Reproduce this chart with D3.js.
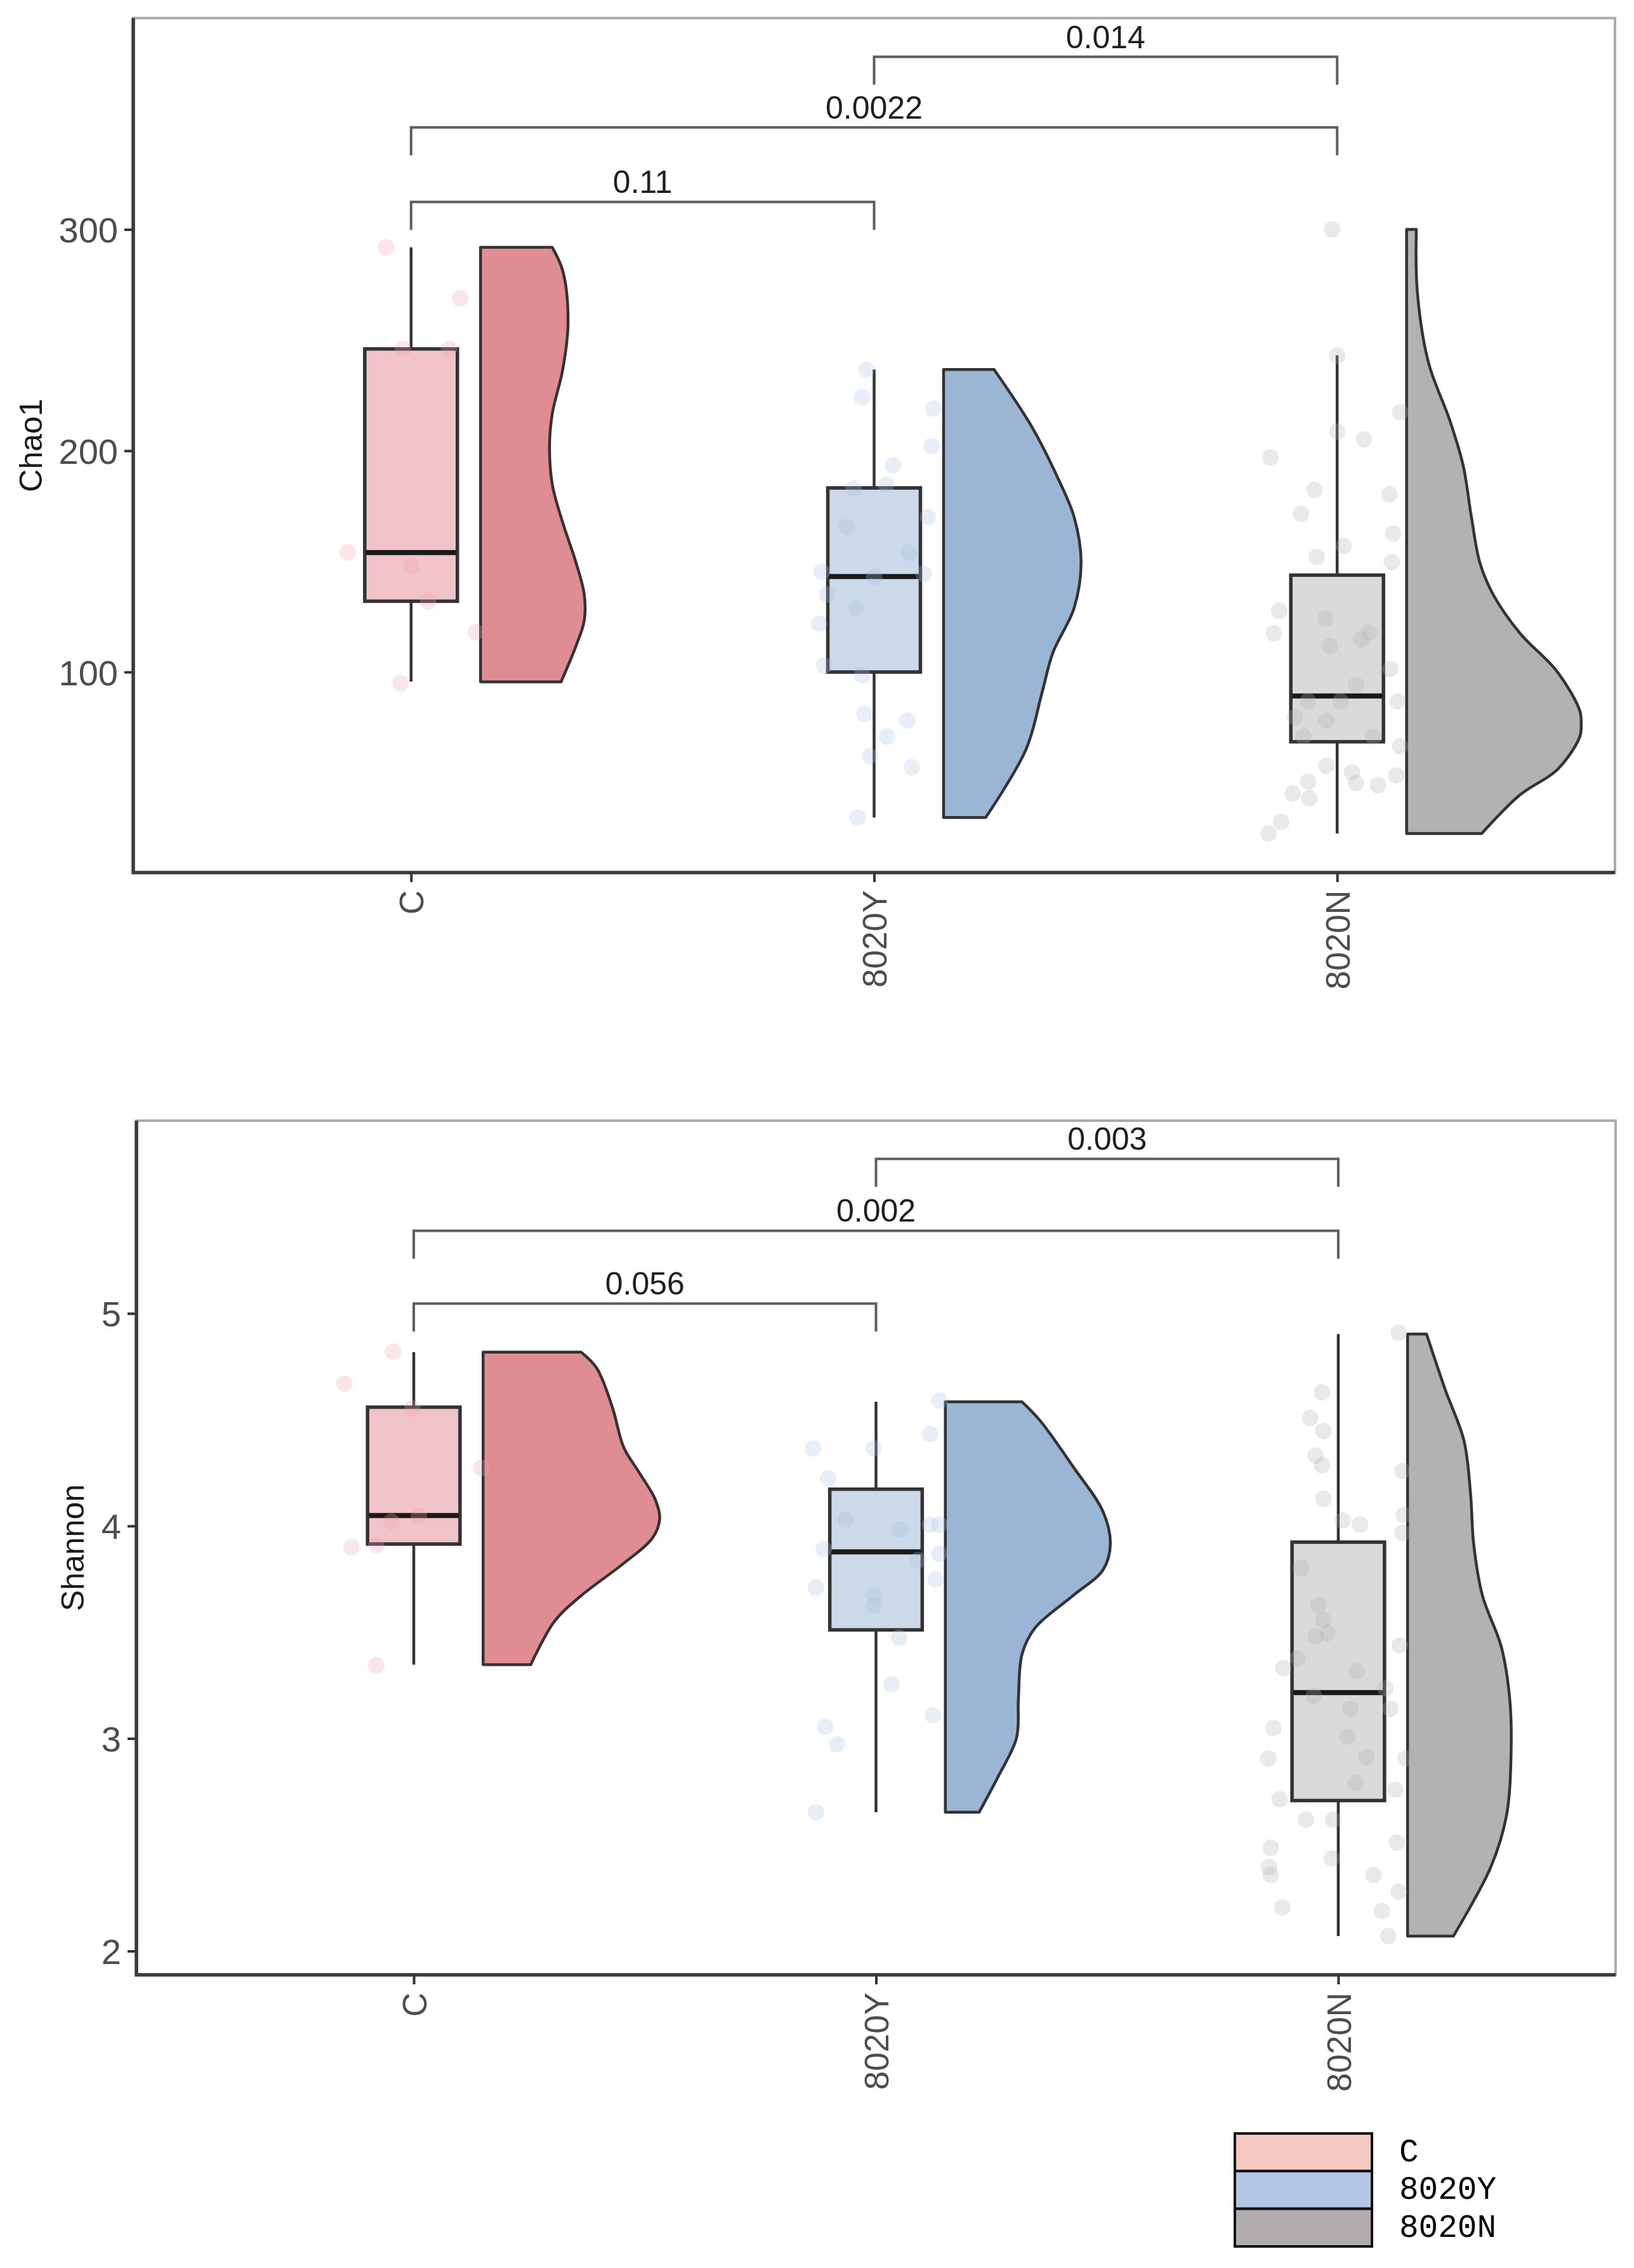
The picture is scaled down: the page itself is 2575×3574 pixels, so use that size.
<!DOCTYPE html>
<html>
<head>
<meta charset="utf-8">
<script src="https://cdn.jsdelivr.net/npm/d3@7"></script>
<style>
  body { margin: 0; background: #fff; }
  svg { display: block; font-family: "Liberation Sans", Arial, sans-serif; }
  .tick text { fill: #4d4d4d; }
  .tick line { stroke: #333; stroke-width: 4; }
  .sig path { fill: none; stroke: #5e5e5e; stroke-width: 4; }
  .sig text { font-size: 50px; fill: #1f1f1f; text-anchor: middle; }
  .ytitle { font-size: 50px; fill: #1a1a1a; text-anchor: middle; }
  .legend text { font-family: "Liberation Mono", "DejaVu Sans Mono", monospace; font-size: 51px; fill: #000; }
</style>
</head>
<body>
<script>
const groups = ["C", "8020Y", "8020N"];

// box stats: [min, q1, median, q3, max]
const chaoBox = [
  [95.7, 132, 154, 246, 291.9],
  [34.3, 100, 143.2, 183.2, 236.7],
  [27, 68.5, 89.2, 143.8, 243.1]
];
const shannonBox = [
  [3.347, 3.915, 4.049, 4.559, 4.818],
  [2.653, 3.511, 3.878, 4.173, 4.584],
  [2.07, 2.708, 3.216, 3.924, 4.903]
];

// half-violin profiles: [value, density (share of a category step)]
const chaoViolinC = [[95.6,0.174],[111.7,0.206],[123.3,0.224],[135,0.224],[149.6,0.206],[167.2,0.178],[184.7,0.155],[202.2,0.149],[216.8,0.155],[237.2,0.178],[257.7,0.189],[281,0.178],[291.9,0.155]];
const chaoViolinY = [[34.3,0.091],[65,0.178],[91,0.213],[108.7,0.236],[129,0.282],[149.6,0.297],[170,0.282],[187.6,0.247],[211,0.19],[236.7,0.109]];
const chaoViolinN = [[27,0.162],[44.5,0.245],[56,0.326],[70.8,0.374],[77,0.377],[82.5,0.374],[100,0.326],[117.5,0.245],[135,0.187],[149.6,0.158],[170,0.14],[193.5,0.122],[213.9,0.093],[240,0.047],[272.3,0.023],[300,0.021]];
const shannonViolinC = [[3.347,0.103],[3.55,0.154],[3.672,0.212],[3.824,0.304],[3.945,0.367],[4.036,0.382],[4.127,0.372],[4.25,0.338],[4.371,0.304],[4.556,0.28],[4.742,0.246],[4.818,0.212]];
const shannonViolinY = [[2.653,0.073],[2.82,0.114],[3.003,0.154],[3.185,0.158],[3.398,0.166],[3.52,0.194],[3.672,0.276],[3.793,0.341],[3.915,0.357],[4.068,0.341],[4.28,0.276],[4.493,0.206],[4.584,0.166]];
const shannonViolinN = [[2.07,0.099],[2.395,0.18],[2.638,0.214],[2.942,0.224],[3.185,0.221],[3.429,0.203],[3.672,0.162],[3.915,0.143],[4.158,0.136],[4.401,0.122],[4.644,0.081],[4.903,0.041]];

// raw points and their jitter (share of a category step)
const chaoPointsC = [291.9,268.9,246,246,154,148,132,118,95];
const chaoJitterC = [-0.054,0.106,-0.018,0.082,-0.137,0,0.037,0.14,-0.023];
const chaoPointsY = [236.6,224.1,219.1,202.2,193.4,183.2,184.7,170.1,165.7,154.0,145.3,142.9,144.4,135.0,129.2,121.9,102.9,98.5,81.0,78.1,70.8,62.0,57.0,34.3];
const chaoJitterY = [-0.017,-0.026,0.128,0.124,0.041,-0.044,0.026,0.116,-0.059,0.075,-0.113,0,0.107,-0.102,-0.038,-0.119,-0.108,-0.026,-0.021,0.072,0.028,-0.009,0.081,-0.036];
const chaoPointsN = [300,243,208.6,205.1,197,217.4,182.3,180.3,171.5,162.6,156.9,152,149.6,127.7,124.2,117.5,118,114.6,111.7,101.4,94.1,86.8,86.8,86.8,78.1,79.6,70.8,70.8,66.4,57.6,54.7,49.8,48.9,53.3,50.4,45.1,43.0,32.3,27];
const chaoJitterN = [-0.011,0,0,0.058,-0.144,0.136,-0.049,0.113,-0.078,0.121,0.014,-0.044,0.118,-0.125,-0.025,-0.137,0.069,0.052,-0.016,0.115,0.041,-0.063,0.008,0.130,-0.023,-0.091,-0.073,0.078,0.136,-0.023,0.032,0.041,0.088,0.128,-0.063,-0.096,-0.060,-0.121,-0.148];

const shannonPointsC = [4.821,4.669,4.553,4.274,4.021,4.047,3.9,3.909,3.344];
const shannonJitterC = [-0.045,-0.15,-0.003,0.146,-0.048,0.011,-0.135,-0.081,-0.081];
const shannonPointsY = [4.590,4.365,4.365,4.432,4.225,4.030,3.985,4.006,4.006,3.891,3.869,3.711,3.748,3.672,3.626,3.474,3.255,3.055,2.973,3.110,2.653,3.839];
const shannonJitterY = [0.137,-0.136,-0.005,0.117,-0.103,-0.066,0.052,0.117,0.137,-0.113,0.137,-0.130,0.129,-0.005,-0.005,0.05,0.033,-0.110,-0.084,0.123,-0.130,0.091];
const shannonPointsN = [4.909,4.629,4.508,4.447,4.331,4.286,4.258,4.128,4.052,3.967,4.027,4.006,3.802,3.626,3.556,3.480,3.496,3.377,3.331,3.316,3.438,3.201,3.237,3.140,3.140,3.049,3.009,2.906,2.912,2.906,2.790,2.714,2.760,2.617,2.617,2.486,2.395,2.358,2.510,2.435,2.358,2.279,2.204,2.188,2.070];
const shannonJitterN = [0.131,-0.035,-0.061,-0.032,-0.049,-0.035,0.139,-0.032,0.142,0.139,0.009,0.047,-0.080,-0.043,-0.032,-0.049,-0.023,-0.088,-0.119,0.040,0.133,-0.053,0.102,0.113,0.026,-0.140,0.020,-0.151,0.061,0.146,0.038,-0.127,0.123,-0.070,-0.011,-0.146,-0.150,-0.146,0.127,-0.014,0.076,0.131,-0.121,0.094,0.108];

// significance brackets: [from, to, bracket value, label]
const chaoSig = [["C","8020Y",312.4,"0.11"],["C","8020N",346.1,"0.0022"],["8020Y","8020N",378,"0.014"]];
const shannonSig = [["C","8020Y",5.046,"0.056"],["C","8020N",5.389,"0.002"],["8020Y","8020N",5.727,"0.003"]];

const chaoTicks = [100, 200, 300];
const shannonTicks = [2, 3, 4, 5];

const violinFill = ["#e08c93", "#9bb5d4", "#b2b2b2"];
const boxFill = ["#f0c4c8", "#cbd9e8", "#dadada"];
const pointFill = ["#f0a2ab", "#a9c1e2", "#b0b0b0"];
const legendFill = ["#f5c9c1", "#b3c6e5", "#b0adac"];

const svg = d3.select("body").append("svg")
  .attr("width", 2575)
  .attr("height", 3574);

svg.append("rect").attr("width", 2575).attr("height", 3574).attr("fill", "#fff");

function drawPanel(p) {
  const x = d3.scalePoint().domain(groups).range([p.left, p.right]).padding(0.6);
  const y = d3.scaleLinear().domain(p.domain).range([p.bottom, p.top]);
  const step = x.step();
  const w = d3.scaleLinear().domain([0, 1]).range([0, step]);
  const g = svg.append("g");

  // panel border
  g.append("rect")
    .attr("x", p.left).attr("y", p.top)
    .attr("width", p.right - p.left).attr("height", p.bottom - p.top)
    .attr("fill", "none").attr("stroke", "#ababab").attr("stroke-width", 4);

  // violins
  groups.forEach((grp, i) => {
    const base = x(grp) + step * 0.15;
    const area = d3.area()
      .x0(base)
      .x1(d => base + w(d[1]))
      .y(d => y(d[0]))
      .curve(d3.curveCatmullRom);
    g.append("path")
      .datum(p.violins[i])
      .attr("d", area)
      .attr("fill", violinFill[i])
      .attr("stroke", "#333")
      .attr("stroke-width", 4.5)
      .attr("stroke-linejoin", "round");
  });

  // boxes
  groups.forEach((grp, i) => {
    const b = p.box[i];
    const cx = x(grp);
    const hw = step * 0.1;
    g.append("line").attr("x1", cx).attr("x2", cx).attr("y1", y(b[0])).attr("y2", y(b[1]))
      .attr("stroke", "#333").attr("stroke-width", 4.5);
    g.append("line").attr("x1", cx).attr("x2", cx).attr("y1", y(b[3])).attr("y2", y(b[4]))
      .attr("stroke", "#333").attr("stroke-width", 4.5);
    g.append("rect")
      .attr("x", cx - hw).attr("width", hw * 2)
      .attr("y", y(b[3])).attr("height", y(b[1]) - y(b[3]))
      .attr("fill", boxFill[i]).attr("stroke", "#333").attr("stroke-width", 5.5);
    g.append("line").attr("x1", cx - hw + 2).attr("x2", cx + hw - 2).attr("y1", y(b[2])).attr("y2", y(b[2]))
      .attr("stroke", "#1a1a1a").attr("stroke-width", 8);
  });

  // jittered points
  groups.forEach((grp, i) => {
    g.append("g").selectAll("circle")
      .data(p.points[i])
      .enter()
      .append("circle")
      .attr("cx", (d, j) => x(grp) + p.jitters[i][j] * step)
      .attr("cy", d => y(d))
      .attr("r", 13)
      .attr("fill", pointFill[i])
      .attr("fill-opacity", 0.28);
  });

  // significance brackets
  const tip = 44;
  const sig = g.append("g").attr("class", "sig");
  p.sig.forEach(s => {
    const x1 = x(s[0]), x2 = x(s[1]), yy = y(s[2]);
    sig.append("path").attr("d", `M${x1},${yy + tip}V${yy}H${x2}V${yy + tip}`);
    sig.append("text").attr("x", (x1 + x2) / 2).attr("y", yy - 14).text(s[3]);
  });

  // axes
  const yAxis = g.append("g")
    .attr("transform", `translate(${p.left},0)`)
    .call(d3.axisLeft(y).tickValues(p.ticks).tickFormat(d3.format("d")).tickSize(14).tickPadding(10));
  yAxis.select(".domain").remove();
  yAxis.selectAll("text").style("font-size", "56px").attr("dy", "0.36em");

  const xAxis = g.append("g")
    .attr("transform", `translate(0,${p.bottom})`)
    .call(d3.axisBottom(x).tickSize(15));
  xAxis.select(".domain").remove();
  xAxis.selectAll("text")
    .style("font-size", "53px")
    .attr("transform", "rotate(-90)")
    .attr("text-anchor", "end")
    .attr("x", -28)
    .attr("y", 0)
    .attr("dy", "0.36em");

  g.append("path")
    .attr("d", `M${p.left},${p.top}V${p.bottom}H${p.right}`)
    .attr("fill", "none").attr("stroke", "#3a3a3a").attr("stroke-width", 5.5);

  g.append("text")
    .attr("class", "ytitle")
    .attr("transform", `translate(${p.titleX},${(p.top + p.bottom) / 2}) rotate(-90)`)
    .attr("dy", "0.36em")
    .text(p.title);
}

drawPanel({
  left: 210, right: 2545, top: 28.5, bottom: 1375,
  domain: [9.4, 395.5],
  box: chaoBox,
  violins: [chaoViolinC, chaoViolinY, chaoViolinN],
  points: [chaoPointsC, chaoPointsY, chaoPointsN],
  jitters: [chaoJitterC, chaoJitterY, chaoJitterN],
  sig: chaoSig,
  ticks: chaoTicks,
  title: "Chao1",
  titleX: 48
});

drawPanel({
  left: 215, right: 2546, top: 1766, bottom: 3112,
  domain: [1.888, 5.907],
  box: shannonBox,
  violins: [shannonViolinC, shannonViolinY, shannonViolinN],
  points: [shannonPointsC, shannonPointsY, shannonPointsN],
  jitters: [shannonJitterC, shannonJitterY, shannonJitterN],
  sig: shannonSig,
  ticks: shannonTicks,
  title: "Shannon",
  titleX: 114
});

// legend
const legY = d3.scaleBand().domain(groups).range([3362, 3540]);
const legend = svg.append("g").attr("class", "legend");
groups.forEach((grp, i) => {
  legend.append("rect")
    .attr("x", 1946).attr("y", legY(grp))
    .attr("width", 216).attr("height", legY.bandwidth())
    .attr("fill", legendFill[i]).attr("stroke", "#111").attr("stroke-width", 4);
  legend.append("text")
    .attr("x", 2205).attr("y", legY(grp) + legY.bandwidth() / 2 - 4)
    .attr("dy", "0.36em")
    .text(grp);
});
</script>
</body>
</html>
